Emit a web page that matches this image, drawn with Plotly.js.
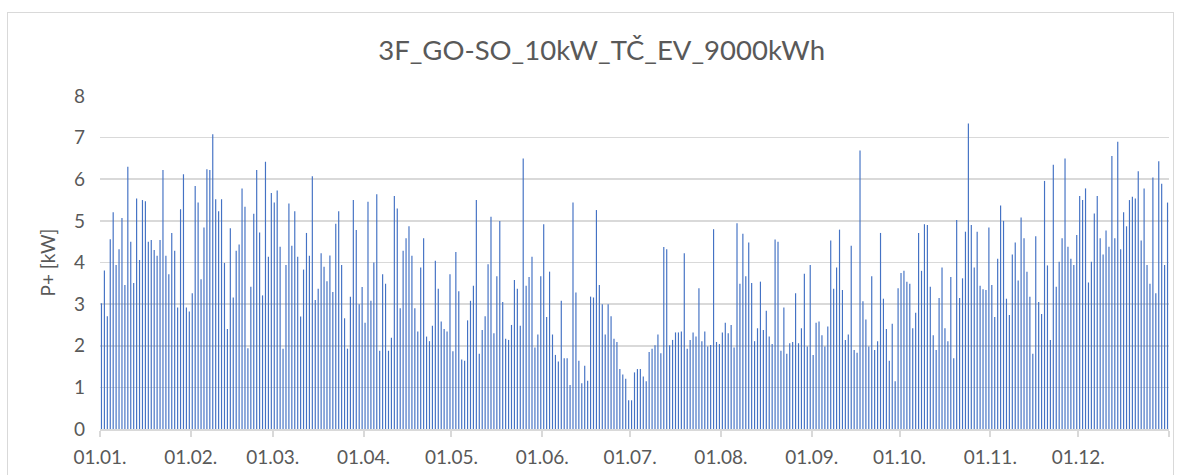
<!DOCTYPE html>
<html>
<head>
<meta charset="utf-8">
<script src="https://cdn.plot.ly/plotly-3.0.1.min.js"></script>
<style>
  html, body { margin: 0; padding: 0; background: #fff; overflow: hidden; }
  #wrap { position: relative; width: 1182px; height: 475px; overflow: hidden; }
  #chart { position: absolute; left: 0; top: 0; width: 1182px; height: 475px; }
  #frame { position: absolute; left: 7px; top: 12px; width: 1167px; height: 480px;
           border: 1px solid #d9d9d9; box-sizing: border-box; pointer-events: none; }
</style>
</head>
<body>
<div id="wrap"><div id="chart"></div><div id="frame"></div></div>
<script>
// Daily maximum power P+ [kW], one value per day of the year
const jan = [3.02, 3.81, 2.71, 4.56, 5.21, 3.94, 4.32, 5.07, 3.46, 6.3, 4.5, 3.51, 5.54, 4.06, 5.5, 5.47, 4.5, 4.54, 4.3, 4.16, 4.54, 6.22, 4.16, 3.72, 4.71, 4.28, 2.92, 5.28, 6.12, 2.92, 2.82];
const feb = [3.26, 5.84, 5.44, 3.6, 4.84, 6.24, 6.22, 7.08, 5.52, 5.23, 5.52, 3.99, 2.4, 4.82, 3.16, 4.28, 4.43, 5.78, 5.34, 1.94, 3.42, 5.17, 6.22, 4.72, 3.21, 6.42, 4.14, 5.67];
const mar = [5.44, 5.73, 4.38, 1.93, 3.94, 5.42, 4.4, 5.23, 4.14, 2.7, 3.83, 4.71, 4.16, 6.07, 3.1, 3.37, 4.22, 3.9, 3.55, 4.17, 3.29, 4.93, 5.23, 3.94, 2.66, 1.93, 3.18, 5.5, 4.78, 3.0, 3.41];
const apr = [2.55, 5.46, 3.08, 4.0, 5.64, 1.88, 3.72, 3.49, 1.88, 2.19, 5.6, 5.3, 2.9, 4.28, 4.58, 4.87, 4.16, 2.9, 2.34, 3.88, 4.58, 2.22, 2.11, 2.48, 4.04, 3.37, 2.58, 2.4, 2.34, 3.72];
const may = [1.87, 4.25, 3.31, 1.67, 1.64, 2.61, 3.08, 3.44, 5.5, 1.81, 2.38, 2.71, 3.96, 5.1, 2.3, 3.67, 5.0, 3.05, 2.17, 2.14, 2.5, 3.58, 3.37, 2.48, 6.5, 3.44, 3.65, 4.14, 1.96, 2.27, 3.67];
const jun = [4.92, 2.69, 3.78, 2.27, 1.78, 1.62, 3.08, 1.7, 1.7, 1.06, 5.44, 3.28, 1.64, 1.1, 1.52, 1.16, 3.18, 3.16, 5.26, 3.46, 3.0, 2.27, 3.0, 2.71, 2.17, 2.09, 1.44, 1.31, 1.21, 0.69];
const jul = [0.69, 1.36, 1.44, 1.44, 1.26, 1.15, 1.85, 1.93, 2.01, 2.27, 1.82, 4.37, 4.32, 2.01, 2.14, 2.32, 2.32, 2.34, 4.22, 1.93, 2.14, 2.32, 2.22, 3.38, 2.11, 2.34, 1.98, 2.02, 4.8, 2.09, 2.04];
const aug = [2.32, 2.55, 2.3, 2.5, 1.96, 4.94, 3.49, 4.69, 3.67, 4.48, 3.51, 2.11, 2.42, 3.54, 2.38, 2.84, 2.22, 2.04, 4.55, 4.5, 1.88, 2.92, 1.81, 2.06, 2.09, 3.26, 2.06, 2.42, 3.73, 1.98, 3.94];
const sep = [1.78, 2.55, 2.58, 2.25, 1.98, 2.46, 4.53, 3.37, 3.88, 4.79, 3.34, 2.14, 2.27, 4.4, 1.9, 1.83, 6.69, 3.07, 2.63, 1.98, 3.67, 1.9, 2.11, 4.71, 3.13, 2.4, 1.64, 2.53, 1.15, 3.38];
const oct = [3.75, 3.8, 3.54, 3.49, 2.42, 2.79, 4.71, 3.8, 4.92, 4.9, 3.42, 2.25, 1.9, 3.15, 3.88, 2.42, 2.11, 3.65, 1.7, 5.02, 3.15, 3.62, 4.74, 7.34, 4.9, 3.88, 4.74, 3.44, 3.36, 3.34, 4.84];
const nov = [3.46, 2.69, 4.09, 5.37, 5.0, 3.13, 2.74, 4.19, 4.48, 3.57, 5.08, 4.58, 3.78, 3.18, 1.81, 4.63, 3.05, 2.76, 5.96, 3.93, 2.14, 6.35, 3.42, 4.02, 4.58, 6.5, 4.38, 4.09, 3.94, 4.66];
const dec = [5.6, 5.5, 5.78, 3.52, 4.02, 5.18, 5.6, 4.58, 4.19, 4.77, 4.38, 6.56, 4.58, 6.9, 4.32, 5.21, 4.87, 5.5, 5.58, 5.54, 6.19, 4.53, 5.78, 3.94, 3.49, 6.04, 3.26, 6.43, 5.89, 3.94, 5.44];

const monthStarts = ['2023-01-01','2023-02-01','2023-03-01','2023-04-01','2023-05-01','2023-06-01',
                     '2023-07-01','2023-08-01','2023-09-01','2023-10-01','2023-11-01','2023-12-01','2024-01-01'];
const monthLabels = ['01.01.','01.02.','01.03.','01.04.','01.05.','01.06.',
                     '01.07.','01.08.','01.09.','01.10.','01.11.','01.12.',''];

const chartTitle = '3F_GO-SO_10kW_TČ_EV_9000kWh';
const yTitle = 'P+ [kW]';

const values = [].concat(jan, feb, mar, apr, may, jun, jul, aug, sep, oct, nov, dec);
const DAY = 86400000;
const start = Date.UTC(2023, 0, 1);
const dates = values.map((v, i) => new Date(start + i * DAY).toISOString().slice(0, 10));

const textColor = '#595959';
const gridColor = '#d9d9d9';
const fontFam = 'Lato, "Open Sans", sans-serif';

const trace = {
  type: 'bar',
  x: dates,
  y: values,
  xperiod: DAY,
  xperiodalignment: 'middle',
  width: 0.4 * DAY,
  marker: { color: '#4472C4', line: { width: 0 } },
  hoverinfo: 'x+y'
};

const layout = {
  width: 1182, height: 475,
  paper_bgcolor: '#ffffff', plot_bgcolor: '#ffffff',
  margin: { l: 100, r: 13, t: 96, b: 46, pad: 0 },
  showlegend: false,
  font: { family: fontFam, color: textColor },
  title: {
    text: chartTitle,
    font: { family: fontFam, size: 27.5, color: textColor },
    xref: 'container', x: 0.509, xanchor: 'center',
    yref: 'container', y: 1 - 50 / 475, yanchor: 'middle'
  },
  xaxis: {
    type: 'date',
    range: ['2023-01-01', '2024-01-01'],
    tickmode: 'array',
    tickvals: monthStarts,
    ticktext: monthLabels,
    ticks: 'outside', ticklen: 6, tickwidth: 2, tickcolor: gridColor,
    showline: true, linecolor: gridColor, linewidth: 2,
    showgrid: false, zeroline: false,
    tickfont: { family: fontFam, size: 19, color: textColor },
    ticklabelstandoff: 4,
    fixedrange: true
  },
  yaxis: {
    range: [0, 8],
    dtick: 1, tick0: 0,
    showgrid: true, gridcolor: gridColor, gridwidth: 1.6,
    zeroline: false, showline: false, ticks: '',
    tickfont: { family: fontFam, size: 19, color: textColor },
    ticklabelstandoff: 14,
    title: { text: yTitle, font: { family: fontFam, size: 19, color: textColor }, standoff: 13 },
    fixedrange: true
  },
  bargap: 0.6
};

Plotly.newPlot('chart', [trace], layout, { displayModeBar: false, staticPlot: true });
</script>
</body>
</html>
